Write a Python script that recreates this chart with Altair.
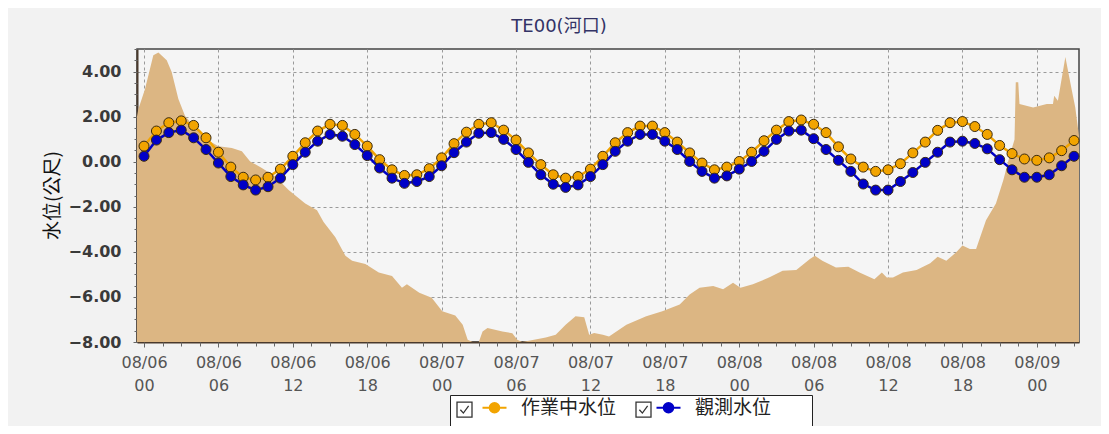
import altair as alt
import pandas as pd

# ---- data ----
series_names = ["作業中水位", "觀測水位"]
check_names = ["c1", "c2"]
shadow_names = ["s1", "s2"]
hours = list(range(76))  # hourly from 08/06 00:00
work_level = [0.69, 1.36, 1.73, 1.81, 1.61, 1.06, 0.42, -0.24, -0.69, -0.81,
              -0.69, -0.33, 0.24, 0.84, 1.36, 1.66, 1.61, 1.21, 0.69, 0.09,
              -0.36, -0.61, -0.58, -0.31, 0.17, 0.80, 1.31, 1.66, 1.73, 1.40,
              0.96, 0.39, -0.13, -0.58, -0.73, -0.66, -0.33, 0.24, 0.84, 1.29,
              1.58, 1.58, 1.29, 0.87, 0.39, -0.06, -0.36, -0.24, 0.01, 0.42,
              0.93, 1.40, 1.78, 1.85, 1.66, 1.29, 0.66, 0.12, -0.24, -0.43,
              -0.36, -0.09, 0.39, 0.87, 1.39, 1.73, 1.78, 1.56, 1.21, 0.72,
              0.36, 0.12, 0.06, 0.17, 0.49, 0.94]
obs_level = [0.24, 0.96, 1.29, 1.40, 1.06, 0.54, -0.06, -0.66, -1.03, -1.26,
             -1.11, -0.73, -0.13, 0.42, 0.91, 1.21, 1.13, 0.76, 0.27, -0.28,
             -0.73, -0.96, -0.88, -0.66, -0.18, 0.40, 0.87, 1.26, 1.29, 0.99,
             0.54, -0.03, -0.58, -1.00, -1.14, -1.03, -0.66, -0.13, 0.46, 0.91,
             1.21, 1.21, 0.91, 0.54, 0.01, -0.43, -0.73, -0.63, -0.33, 0.01,
             0.46, 0.99, 1.36, 1.40, 1.02, 0.54, 0.06, -0.43, -0.99, -1.26,
             -1.26, -0.88, -0.48, -0.03, 0.42, 0.87, 0.91, 0.81, 0.57, 0.09,
             -0.36, -0.69, -0.69, -0.58, -0.18, 0.24]

# background filled profile (hour offset from 08/06 00:00, level)
area_hours = [-0.57, -0.46, 0.08, 0.75, 1.16, 1.83, 2.23, 2.77, 3.31, 4.12,
              5.06, 6.0, 7.08, 7.89, 8.56, 9.5, 10.58, 11.66, 13.0, 13.95,
              14.48, 15.43, 16.24, 16.78, 17.85, 18.93, 20.0, 20.8, 21.2, 22.2,
              23.2, 24.05, 25.1, 25.7, 26.1, 26.5, 27.0, 27.3, 27.7, 28.9,
              29.7, 30.1, 30.5, 32.4, 33.2, 34.0, 34.8, 35.5, 35.9, 36.3,
              37.0, 37.5, 38.9, 40.5, 41.8, 43.2, 44.0, 44.8, 45.9, 46.7,
              47.5, 48.1, 49.1, 50.4, 51.5, 52.6, 53.7, 54.1, 54.7, 55.8,
              56.8, 57.7, 58.9, 59.5, 59.9, 60.4, 61.2, 62.3, 63.4, 64.0,
              64.7, 65.5, 66.0, 66.6, 67.1, 67.9, 68.7, 69.3, 69.8, 70.2,
              70.3, 70.5, 70.6, 71.7, 72.8, 73.3, 73.4, 73.7, 74.3, 74.8,
              75.1, 75.4]
area_levels = [2.0, 2.33, 3.23, 4.72, 4.84, 4.50, 3.98, 2.78, 2.03, 1.51,
               0.99, 0.69, 0.61, 0.46, 0.01, -0.28, -0.66, -1.26, -1.85, -2.15,
               -2.68, -3.35, -4.17, -4.39, -4.54, -4.92, -5.07, -5.59, -5.44, -5.81,
               -6.04, -6.64, -6.82, -7.23, -7.9, -8.0, -8.0, -7.53, -7.38, -7.53,
               -7.61, -7.9, -8.0, -7.8, -7.68, -7.23, -6.86, -6.9, -7.68, -7.6,
               -7.68, -7.76, -7.23, -6.86, -6.64, -6.34, -5.89, -5.59, -5.52, -5.66,
               -5.37, -5.59, -5.44, -5.14, -4.84, -4.81, -4.32, -4.17, -4.39, -4.69,
               -4.66, -4.92, -5.22, -4.92, -5.14, -5.14, -4.92, -4.81, -4.51, -4.22,
               -4.39, -4.02, -3.72, -3.87, -3.87, -2.6, -1.85, -0.81, 0.24, 0.99,
               3.53, 3.53, 2.56, 2.41, 2.56, 2.56, 2.93, 2.70, 4.65, 3.23,
               2.41, 1.13]

y_ticks = [-8, -6, -4, -2, 0, 2, 4]
y_minor_ticks = [v / 2 for v in range(-16, 11)]
x_tick_hours = [0, 6, 12, 18, 24, 30, 36, 42, 48, 54, 60, 66, 72]
x_minor_tick_hours = [h * 1.5 for h in range(0, 51)]

base = pd.Timestamp("2019-08-06 00:00")
n = len(hours)
df_lines = pd.DataFrame({
    "time": [base + pd.Timedelta(hours=h) for h in hours] * 2,
    "value": work_level + obs_level,
    "series": [series_names[0]] * n + [series_names[1]] * n,
    "chk": [check_names[0]] * n + [check_names[1]] * n,
    "shd": [shadow_names[0]] * n + [shadow_names[1]] * n,
})
df_area = pd.DataFrame({
    "time": [base + pd.Timedelta(hours=h) for h in area_hours],
    "value": area_levels,
})


def dt(h):
    t = base + pd.Timedelta(hours=h)
    return alt.DateTime(year=t.year, month=t.month, date=t.day, hours=t.hour, minutes=t.minute)


x_values = [dt(h) for h in x_tick_hours]
x_minor_values = [dt(h) for h in x_minor_tick_hours]
x_domain = [dt(-34 / 60), dt(75.4)]
x_scale = alt.Scale(domain=x_domain)
y_scale = alt.Scale(domain=[-8, 5], nice=False, zero=False)

grid_color = "#9a9a9a"
x_axis = alt.Axis(
    values=x_values, title=None, orient="bottom",
    labelExpr="[timeFormat(datum.value, '%m/%d'), timeFormat(datum.value, '%H')]",
    labelFont="DejaVu Sans", labelFontSize=16, labelColor="#555555",
    labelLineHeight=23, labelPadding=7, labelFlush=False,
    tickSize=5, tickColor="#666666", domainColor="#4a3a2c", domainWidth=2,
    grid=True, gridDash=[3, 3], gridColor=grid_color,
)
y_axis = alt.Axis(
    values=y_ticks, format=".2f", title="水位(公尺)", orient="left",
    labelFont="DejaVu Sans", labelFontSize=16, labelFontWeight="bold", labelColor="#3a3a3a",
    labelPadding=12, tickSize=4, tickColor="#666666", domainColor="#4a3a2c", domainWidth=2,
    titleFont="Noto Sans CJK TC", titleFontSize=19, titleFontWeight="normal", titleColor="#111111",
    titleX=-85, titleY=146, titleBaseline="middle", titleAngle=270,
    grid=True, gridDash=[3, 3], gridColor=grid_color,
)
x_minor_axis = alt.Axis(values=x_minor_values, orient="bottom", title=None, labels=False,
                        domain=False, grid=False, tickSize=4, tickColor="#666666")
y_minor_axis = alt.Axis(values=y_minor_ticks, orient="left", title=None, labels=False,
                        domain=False, grid=False, tickSize=3, tickColor="#666666")

x_enc = alt.X("time:T", scale=x_scale, axis=x_axis)
y_enc = alt.Y("value:Q", scale=y_scale, axis=y_axis)

area = alt.Chart(df_area).mark_area(color="#dcb683", clip=True, interpolate="linear").encode(
    x=x_enc, y=y_enc, y2=alt.datum(-8)
)

line_symbol = "M-2,0L-0.8,0M0.8,0L2,0M0.8,0A0.8,0.8,0,1,1,-0.8,0A0.8,0.8,0,1,1,0.8,0Z"
checkbox_symbol = "M-1,-1L1,-1L1,1L-1,1Z M-0.55,0L-0.15,0.45L0.55,-0.5"
pad_blank = "\u2800" * 14  # blank glyphs that only widen the legend frame

color = alt.Color(
    "series:N",
    scale=alt.Scale(domain=series_names, range=["#f2a400", "#0000c8"]),
    legend=alt.Legend(
        title=None, orient="none", legendX=348, legendY=349, direction="horizontal",
        padding=0, zindex=3,
        labelFont="Noto Sans CJK TC", labelFontSize=19, labelColor="#222222", labelLimit=300,
        symbolType=line_symbol, symbolSize=144, symbolStrokeWidth=2, symbolOpacity=1,
        columnPadding=35, labelOffset=17,
    ),
)


def box_legend(names, x, y, fill, stroke, z, show_symbols):
    return alt.Legend(
        title=None, orient="none", legendX=x, legendY=y, direction="horizontal",
        fillColor=fill, strokeColor=stroke, padding=6, zindex=z,
        symbolType=checkbox_symbol, symbolSize=225, symbolFillColor="white",
        symbolStrokeColor="#333333", symbolStrokeWidth=1.3,
        symbolOpacity=1 if show_symbols else 0,
        labelOpacity=0, labelFont="DejaVu Sans Mono", labelFontSize=15, labelLimit=400,
        labelOffset=0, columnPadding=158,
        labelExpr="datum.value == '" + names[1] + "' ? '" + pad_blank + "' : ''",
    )


check = alt.Opacity(
    "chk:N", scale=alt.Scale(domain=check_names, range=[1, 1]),
    legend=box_legend(check_names, 313, 346, "white", "#222222", 2, True),
)
shadow = alt.StrokeOpacity(
    "shd:N", scale=alt.Scale(domain=shadow_names, range=[1, 1]),
    legend=box_legend(shadow_names, 316, 349, "#3a3a3a", "#3a3a3a", 1, False),
)

lines = alt.Chart(df_lines).mark_line(strokeWidth=2.5, opacity=1).encode(
    x=x_enc, y=y_enc, color=color
)
points = alt.Chart(df_lines).mark_point(filled=True, size=100, stroke="#3a2a10", strokeWidth=1).encode(
    x=x_enc, y=y_enc, color=color, opacity=check, strokeOpacity=shadow
)

main = alt.layer(area, lines, points)
minor = alt.Chart(df_area).mark_point(opacity=0).encode(
    x=alt.X("time:T", scale=x_scale, axis=x_minor_axis),
    y=alt.Y("value:Q", scale=y_scale, axis=y_minor_axis),
)

chart = alt.layer(main, minor).resolve_axis(x="independent", y="independent").properties(
    width=942, height=293,
    autosize=alt.AutoSizeParams(type="none"),
    padding={"left": 129, "top": 41, "right": 22, "bottom": 84},
    title=alt.TitleParams(
        "TE00(河口)", font="DejaVu Sans, 'Noto Sans CJK TC'", fontSize=18,
        fontWeight="normal", color="#333366", anchor="middle", dx=-49, offset=13,
    ),
).configure(background="#f2f2f2").configure_view(
    fill="#f5f5f5", stroke="#444444", strokeWidth=1.5
)

chart.save("out.html", embed_options={"renderer": "svg", "actions": False})
